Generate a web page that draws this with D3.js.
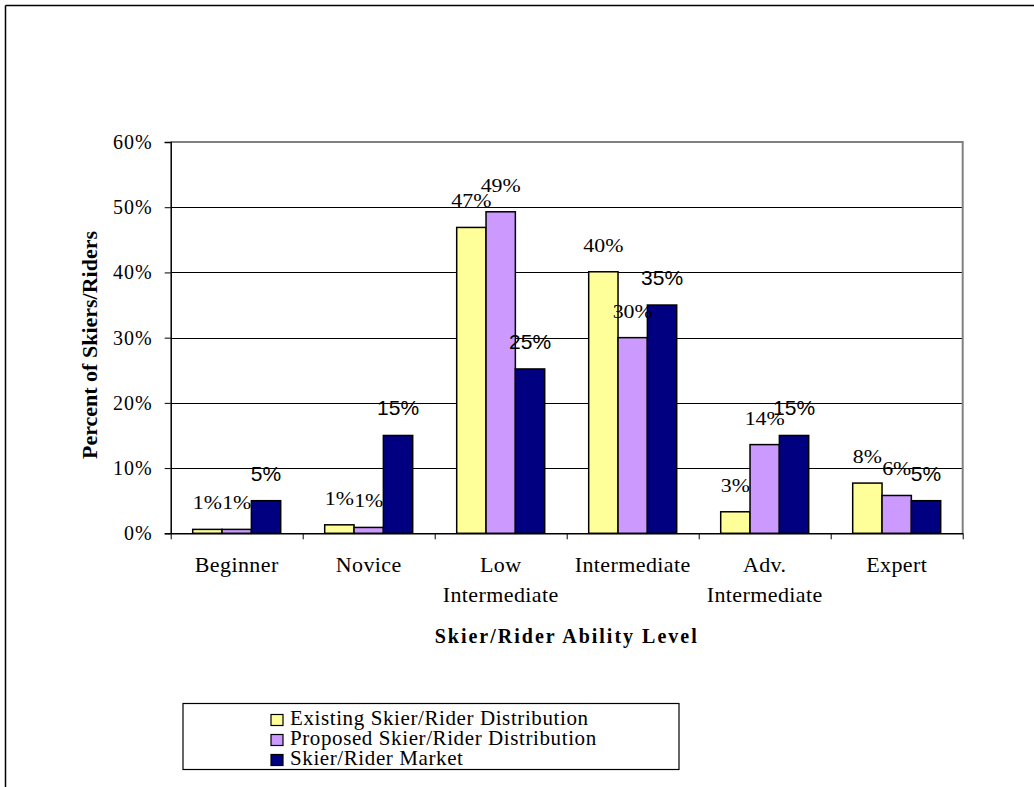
<!DOCTYPE html>
<html>
<head>
<meta charset="utf-8">
<script src="https://cdn.jsdelivr.net/npm/d3@7/dist/d3.min.js"></script>
<style>
  html, body { margin: 0; padding: 0; background: #fff; }
  svg { display: block; }
</style>
</head>
<body>
<svg id="chart" width="1034" height="787"></svg>
<script>
// ---- Data ----
const categories = ["Beginner", "Novice", "Low\nIntermediate", "Intermediate", "Adv.\nIntermediate", "Expert"];
const seriesNames = ["Existing Skier/Rider Distribution", "Proposed Skier/Rider Distribution", "Skier/Rider Market"];
const existing = [0.006, 0.013, 0.469, 0.401, 0.033, 0.077];
const proposed = [0.006, 0.009, 0.493, 0.300, 0.136, 0.058];
const market   = [0.050, 0.150, 0.252, 0.350, 0.150, 0.050];
const yTicks = [0, 0.1, 0.2, 0.3, 0.4, 0.5, 0.6];
const colors = ["#FFFF99", "#CC99FF", "#000080"];

const series = [existing, proposed, market];

const svg = d3.select("#chart");
const serif = "Liberation Serif, Times New Roman, serif";
const sans = "Liberation Sans, Arial, sans-serif";

// outer border (top and left)
svg.append("line").attr("x1", 5.5).attr("y1", 5.5).attr("x2", 1034).attr("y2", 5.5).attr("stroke", "#000").attr("stroke-width", 1.5);
svg.append("line").attr("x1", 5.5).attr("y1", 5.5).attr("x2", 5.5).attr("y2", 787).attr("stroke", "#000").attr("stroke-width", 1.5);

const plot = { left: 170.7, right: 962.7, top: 142, bottom: 533.3 };

const x = d3.scaleBand().domain(d3.range(categories.length)).range([plot.left, plot.right])
  .paddingInner(1/3).paddingOuter(1/6);
const xs = d3.scaleBand().domain(d3.range(series.length)).range([0, x.bandwidth()]);
const y = d3.scaleLinear().domain([0, 0.6]).range([plot.bottom, plot.top]);

// gridlines
svg.append("g").selectAll("line").data(yTicks.filter(t => t > 0 && t < 0.6)).join("line")
  .attr("x1", plot.left).attr("x2", plot.right)
  .attr("y1", d => Math.round(y(d)) + 0.5).attr("y2", d => Math.round(y(d)) + 0.5)
  .attr("stroke", "#000").attr("stroke-width", 1);

// plot area border top/right (gray)
svg.append("path")
  .attr("d", `M${plot.left},${y(0.6)}H${plot.right}V${plot.bottom}`)
  .attr("fill", "none").attr("stroke", "#808080").attr("stroke-width", 2);

// bars
series.forEach((vals, si) => {
  svg.append("g").selectAll("rect").data(vals).join("rect")
    .attr("x", (d, i) => x(i) + xs(si))
    .attr("y", d => y(d))
    .attr("width", xs.bandwidth())
    .attr("height", d => y(0) - y(d))
    .attr("fill", colors[si])
    .attr("stroke", "#000").attr("stroke-width", 1.5);
});

// data labels (serif ones slightly stretched horizontally like the reference)
series.forEach((vals, si) => {
  svg.append("g").selectAll("text").data(vals).join("text")
    .attr("transform", (d, i) => {
      const cx = x(i) + xs(si) + xs.bandwidth() / 2;
      const cy = y(d) - 20;
      return si === 2 ? `translate(${cx},${cy})` : `translate(${cx},${cy}) scale(1.15,1)`;
    })
    .attr("text-anchor", "middle")
    .attr("font-family", si === 2 ? sans : serif)
    .attr("font-size", si === 2 ? 21 : 19)
    .attr("fill", "#000")
    .text(d => Math.round(d * 100) + "%");
});

// y axis
const yAxis = d3.axisLeft(y).tickValues(yTicks).tickFormat(d3.format(".0%")).tickSize(6).tickPadding(12);
const yg = svg.append("g").attr("transform", `translate(${plot.left},0)`).call(yAxis);
yg.select(".domain").attr("stroke", "#000").attr("stroke-width", 1.5);
yg.selectAll(".tick line").attr("stroke", "#000").attr("stroke-width", 1);
yg.selectAll(".tick text").attr("font-family", serif).attr("font-size", 20)
  .attr("letter-spacing", 1).attr("fill", "#000");

// x axis with ticks at category boundaries
const xb = d3.scaleLinear().domain([0, categories.length]).range([plot.left, plot.right]);
const xAxis = d3.axisBottom(xb).tickValues(d3.range(categories.length + 1)).tickFormat("").tickSize(6).tickSizeOuter(0);
const xg = svg.append("g").attr("transform", `translate(0,${plot.bottom})`).call(xAxis);
xg.select(".domain").attr("stroke", "#000").attr("stroke-width", 1.5);
xg.selectAll(".tick line").attr("stroke", "#000").attr("stroke-width", 1);

// category labels
const catG = svg.append("g");
categories.forEach((c, i) => {
  const cx = x(i) + x.bandwidth() / 2;
  const t = catG.append("text")
    .attr("x", cx)
    .attr("y", 572)
    .attr("text-anchor", "middle")
    .attr("font-family", serif).attr("font-size", 22).attr("letter-spacing", 0.4).attr("fill", "#000");
  c.split("\n").forEach((line, li) => {
    t.append("tspan").attr("x", cx).attr("dy", li === 0 ? 0 : 30).text(line);
  });
});

// axis titles
svg.append("text")
  .attr("x", (plot.left + plot.right) / 2).attr("y", 643)
  .attr("text-anchor", "middle")
  .attr("font-family", serif).attr("font-size", 20).attr("font-weight", "bold")
  .attr("letter-spacing", 2)
  .text("Skier/Rider Ability Level");

svg.append("text")
  .attr("transform", `translate(97,345) rotate(-90)`)
  .attr("text-anchor", "middle")
  .attr("font-family", serif).attr("font-size", 22).attr("font-weight", "bold")
  .text("Percent of Skiers/Riders");

// legend
const lg = svg.append("g");
lg.append("rect").attr("x", 183).attr("y", 703.5).attr("width", 496).attr("height", 66)
  .attr("fill", "#fff").attr("stroke", "#000").attr("stroke-width", 1.2);
seriesNames.forEach((name, i) => {
  const base = 725 + i * 20;
  lg.append("rect").attr("x", 271).attr("y", base - 10.5).attr("width", 12).attr("height", 11)
    .attr("fill", colors[i]).attr("stroke", "#000").attr("stroke-width", 1.2);
  lg.append("text").attr("x", 290).attr("y", base)
    .attr("font-family", serif).attr("font-size", 21).attr("letter-spacing", 0.6).attr("fill", "#000")
    .text(name);
});
</script>
</body>
</html>
